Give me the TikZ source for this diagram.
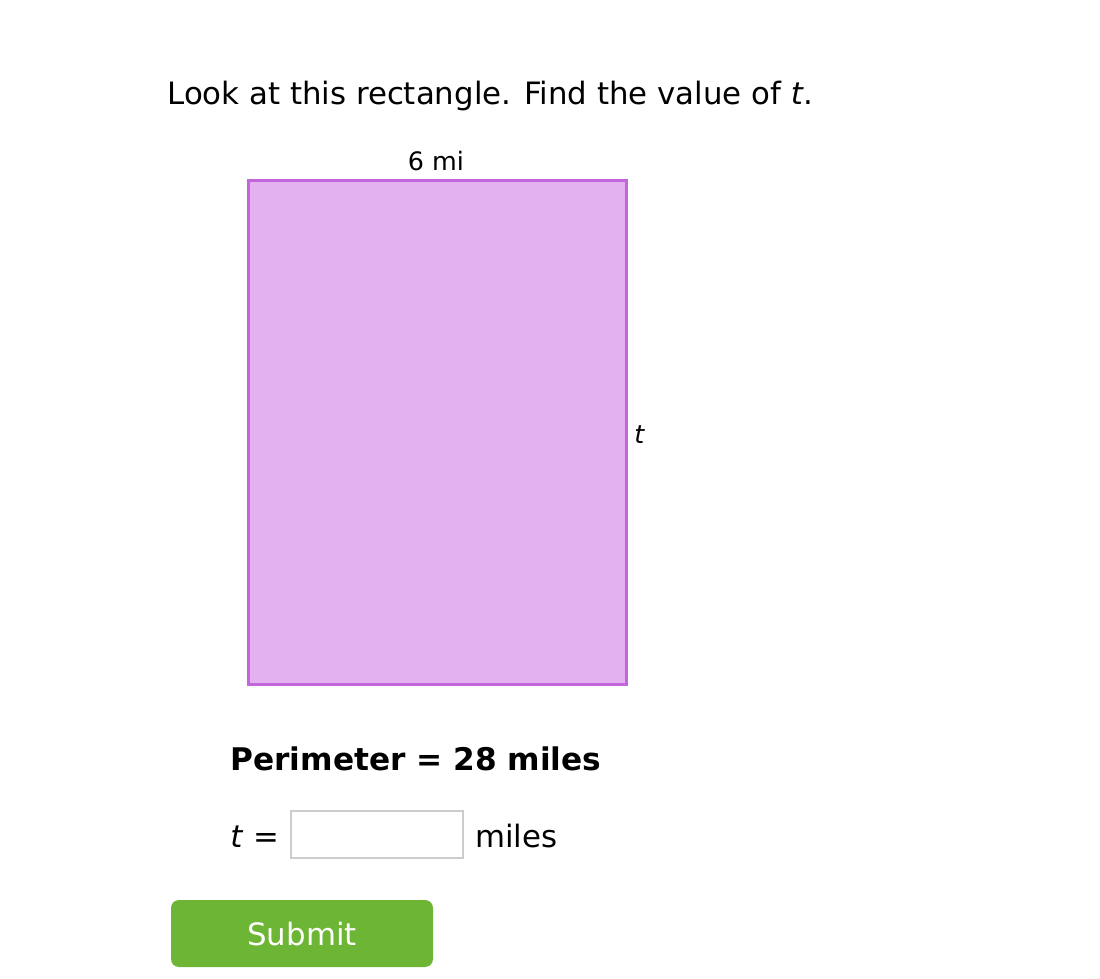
\documentclass[tikz,border=0pt]{standalone}
\usepackage{fontspec}
\setmainfont{DejaVu Sans}
\usetikzlibrary{positioning}
\definecolor{shapefill}{HTML}{E3B1F0}
\definecolor{shapeline}{HTML}{C465DB}
\definecolor{submitgreen}{HTML}{6CB535}
\definecolor{boxgray}{HTML}{CCCCCC}
\tikzset{
  txt/.style={inner sep=0pt, anchor=base west, font=\fontsize{15.4}{18}\selectfont},
  small/.style={inner sep=0pt, anchor=base, font=\fontsize{12.7}{15}\selectfont},
}

\begin{document}
\begin{tikzpicture}[x=0.5pt, y=-0.5pt]
    \useasboundingbox (0,0) rectangle (1100,979);

    \node[txt] (Q) at (167, 105) {Look at this rectangle. Find the value of \textit{t}.};

    \draw[shapeline, fill=shapefill, line width=1.5pt] (248, 181) rectangle (626, 684);
    \node[small] (W) at (436, 171) {6 mi};
    \node[small, anchor=base west] (T) at (634, 444) {\textit{t}};

    \node[txt, font=\fontsize{15.6}{18}\selectfont\bfseries] (P) at (230, 770) {Perimeter = 28 miles};

    \node[txt] (Teq) at (230, 847) {\textit{t} =};
    \draw[boxgray, line width=1pt, fill=white] (291, 811) rectangle (463, 858);
    \node[txt] (M) at (475, 847) {miles};

    \fill[submitgreen, rounded corners=4pt] (171, 900) rectangle (433, 967);
    \node[txt, anchor=base, text=white] (S) at (302, 945) {Submit};
\end{tikzpicture}
\end{document}
